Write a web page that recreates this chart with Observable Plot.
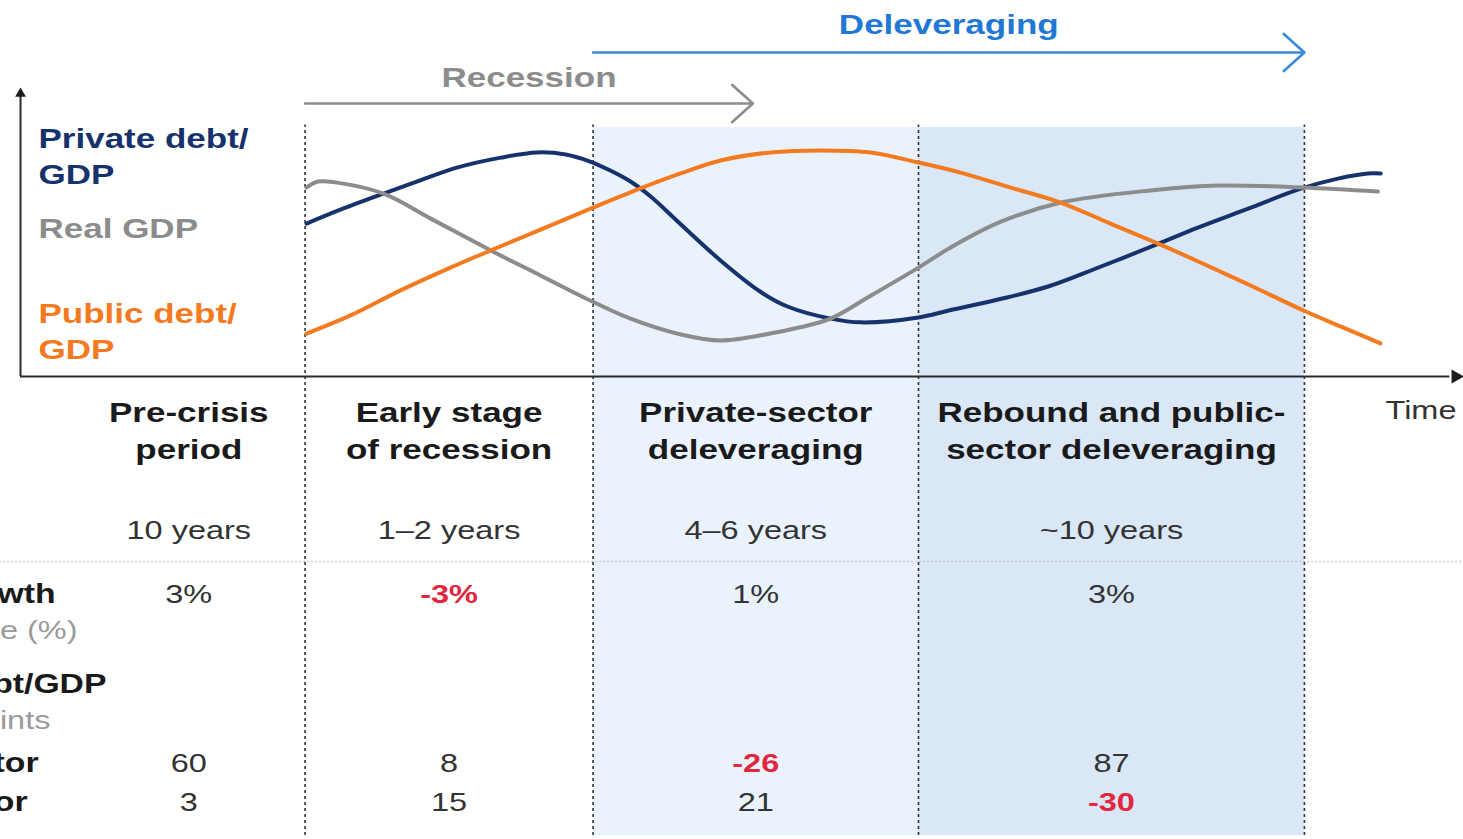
<!DOCTYPE html>
<html><head><meta charset="utf-8">
<script src="https://cdn.jsdelivr.net/npm/d3@7"></script>
<script src="https://cdn.jsdelivr.net/npm/@observablehq/plot@0.6"></script>
<style>
html,body{margin:0;padding:0;background:#fff;overflow:hidden}
#chart svg{display:block}
</style>
</head><body><div id="chart"></div>
<script>
// ---------- data ----------
const phaseNames = ["Pre-crisis\nperiod", "Early stage\nof recession", "Private-sector\ndeleveraging", "Rebound and public-\nsector deleveraging"];
const phaseDurations = ["10 years", "1–2 years", "4–6 years", "~10 years"];
const gdpGrowth = [3, -3, 1, 3];
const privateSectorChange = [60, 8, -26, 87];
const publicSectorChange = [3, 15, 21, -30];
const phaseStart = [3.75, 19.9, 39.9, 62.5];   // time units
const phaseEnd = [19.9, 39.9, 62.5, 89.3];
const shadedPhases = [2, 3];
const rowTitles = ["Real GDP growth", "Compound annual growth rate (%)", "Change in debt/GDP", "Percentage points", "Private sector", "Public sector"];
const seriesNames = ["Private debt/\nGDP", "Real GDP", "Public debt/\nGDP"];
const periodNames = ["Recession", "Deleveraging"];
const periodFrom = [19.9, 39.9];
const periodTo = [51.0, 89.3];

// [time, level]
const privateDebt = [[20,53.1],[22.4,58.0],[25.35,63.5],[27.9,68.1],[30.5,72.6],[33.5,76.0],[36.0,77.8],[38.0,77.1],[39.7,74.65],[41.1,71.5],[42.5,67.7],[43.9,62.5],[46.0,52.8],[48.75,40.3],[51.5,29.5],[53.4,24.3],[56.4,20.1],[58.5,18.8],[62.5,20.5],[64.6,22.9],[68.1,26.8],[71.5,31.25],[75.0,37.85],[79.0,45.8],[81.9,51.7],[85.4,58.3],[89.1,65.3],[91.7,68.8],[93.7,70.5],[94.6,70.5]];
const realGDP = [[20,65.6],[20.8,67.7],[22.0,67.4],[25.35,63.5],[28.6,54.9],[32.8,43.75],[36.25,35.1],[39.7,26.4],[42.5,20.1],[46.0,14.6],[48.75,12.5],[52.2,14.9],[54.2,17.0],[56.4,20.1],[59.2,28.1],[62.5,37.8],[64.6,44.4],[68.1,53.5],[72.4,60.4],[78.6,64.6],[83.3,66.3],[89.2,65.6],[94.4,64.2]];
const publicDebt = [[20,14.9],[23.06,21.2],[26.53,29.9],[30.0,37.8],[32.78,43.75],[36.25,51.0],[39.93,58.7],[43.19,65.3],[45.97,70.5],[48.75,75.0],[52.22,77.8],[55.69,78.5],[59.17,77.8],[62.5,74.3],[65.42,70.8],[68.9,65.6],[72.36,60.4],[75.83,53.1],[79.1,46.2],[82.08,39.6],[85.56,31.6],[89.24,22.9],[91.8,17.4],[94.58,11.5]];

// ---------- layout (levels on the y scale) ----------
const L = {header:-18.2, duration:-53.5, growth:-75.7, growthSub:-88.2, debt:-106.9, debtSub:-119.4, priv:-134.4, pub:-147.9, bottom:-159.4, shadeTop:86.5, sep:-64.2};
const colors = {navy:"#16326c", gray:"#8c8c8c", orange:"#f37a1f", red:"#e2263e", blue:"#1f78d4", blueLine:"#3b8ad8", text:"#1a1a1a", soft:"#333333", sub:"#9a9a9a"};
const font = "'Liberation Sans', Arial, Helvetica, sans-serif";

const toPts = (arr, s) => arr.map(([t, v]) => ({t, v, s}));
const curves = [...toPts(privateDebt, "private"), ...toPts(realGDP, "gdp"), ...toPts(publicDebt, "public")];
const phases = phaseNames.map((name, i) => ({name, i, x: (phaseStart[i] + phaseEnd[i]) / 2, x1: phaseStart[i], x2: phaseEnd[i]}));
const cells = [];
phases.forEach((p, i) => {
  cells.push({x: p.x, y: L.growth, v: gdpGrowth[i], label: gdpGrowth[i] + "%"});
  cells.push({x: p.x, y: L.priv, v: privateSectorChange[i], label: String(privateSectorChange[i])});
  cells.push({x: p.x, y: L.pub, v: publicSectorChange[i], label: String(publicSectorChange[i])});
});
const rowLabels = [
  {text: rowTitles[0], x: 2.57, y: L.growth, bold: true},
  {text: rowTitles[1], x: 4.1, y: L.growthSub, bold: false},
  {text: rowTitles[2], x: 6.11, y: L.debt, bold: true},
  {text: rowTitles[3], x: 2.22, y: L.debtSub, bold: false},
  {text: rowTitles[4], x: 1.39, y: L.priv, bold: true},
  {text: rowTitles[5], x: 0.63, y: L.pub, bold: true}
];
const legend = [
  {text: seriesNames[0], y: 77.2, c: colors.navy},
  {text: seriesNames[1], y: 51.9, c: colors.gray},
  {text: seriesNames[2], y: 16.4, c: colors.orange}
];
const periods = periodNames.map((name, i) => ({name, x1: periodFrom[i], x2: periodTo[i], mid: (periodFrom[i] + periodTo[i]) / 2}));

const chart = Plot.plot({
  width: 1463, height: 839,
  marginTop: 0, marginRight: 0, marginBottom: 0, marginLeft: 0,
  style: {fontFamily: font, background: "#fff", overflow: "hidden"},
  x: {domain: [0, 100], range: [18, 1458], axis: null},
  y: {domain: [0, 100], range: [376, 88], axis: null},
  marks: [
    // shaded phases
    Plot.rect(phases.filter(p => shadedPhases.includes(p.i)), {x1: "x1", x2: "x2", y1: L.bottom, y2: L.shadeTop, fill: d => d.i === 2 ? "#eaf3fd" : "#d9e7f7"}),
    // separator row line
    Plot.ruleY([L.sep], {x1: -1.3, x2: 100.4, stroke: "#c9c9c9", strokeWidth: 1.5, strokeDasharray: "2,2"}),
    // phase boundaries
    Plot.ruleX(phaseEnd, {y1: L.bottom, y2: 87.3, stroke: "#333", strokeWidth: 1.6, strokeDasharray: "3,3"}),
    // axes
    Plot.ruleY([0], {x1: 0.14, x2: 99.4, stroke: "#2a2a2a", strokeWidth: 2}),
    Plot.ruleX([0.14], {y1: 0, y2: 97.5, stroke: "#2a2a2a", strokeWidth: 2}),
    Plot.dot([{x: 99.8, y: 0}], {x: "x", y: "y", symbol: "triangle", r: 5.2, fill: "#1a1a1a", stroke: null, rotate: 90}),
    Plot.dot([{x: 0.14, y: 98.2}], {x: "x", y: "y", symbol: "triangle", r: 4, fill: "#1a1a1a", stroke: null}),
    // curves
    Plot.line(curves, {x: "t", y: "v", z: "s", stroke: d => d.s === "private" ? colors.navy : d.s === "gdp" ? colors.gray : colors.orange, strokeWidth: 4, curve: "catmull-rom"}),
    // period arrows
    Plot.arrow(periods, {x1: "x1", x2: "x2", y1: d => d.name === "Recession" ? 94.8 : 112.5, y2: d => d.name === "Recession" ? 94.8 : 112.5, stroke: d => d.name === "Recession" ? colors.gray : colors.blueLine, strokeWidth: 2.6, headLength: 16, headAngle: 84}),
    Plot.text(periods, {x: "mid", y: d => d.name === "Recession" ? 103.5 : 121.9, text: "name", fill: d => d.name === "Recession" ? colors.gray : colors.blue, fontSize: 28, fontWeight: "bold"}),
    // legend labels
    Plot.text(legend, {x: 1.39, y: "y", text: "text", fill: "c", textAnchor: "start", fontSize: 28, fontWeight: "bold", lineHeight: 1.28}),
    // column headers
    Plot.text(phases, {x: "x", y: L.header, text: "name", fill: colors.text, fontSize: 28, fontWeight: "bold", lineHeight: 1.32}),
    Plot.text(["Time"], {x: 94.93, y: -11.8, text: d => d, textAnchor: "start", fill: colors.soft, fontSize: 26}),
    Plot.text(phases, {x: "x", y: L.duration, text: d => phaseDurations[d.i], fill: colors.soft, fontSize: 26}),
    // table values
    Plot.text(cells.filter(d => d.v >= 0), {x: "x", y: "y", text: "label", fill: colors.soft, fontSize: 26}),
    Plot.text(cells.filter(d => d.v < 0), {x: "x", y: "y", text: "label", fill: colors.red, fontSize: 26, fontWeight: "bold"}),
    // row labels (cropped at the left edge like the reference)
    Plot.text(rowLabels.filter(d => d.bold), {x: "x", y: "y", text: "text", textAnchor: "end", fill: colors.text, fontSize: 27, fontWeight: "bold"}),
    Plot.text(rowLabels.filter(d => !d.bold), {x: "x", y: "y", text: "text", textAnchor: "end", fill: colors.sub, fontSize: 26})
  ]
});

// the reference typography is horizontally wide: stretch each text about its anchor
d3.select(chart).selectAll("text").each(function () {
  const t = this.getAttribute("transform") || "";
  this.setAttribute("transform", t + " scale(1.25,1)");
});
document.getElementById("chart").appendChild(chart);
</script>
</body></html>
